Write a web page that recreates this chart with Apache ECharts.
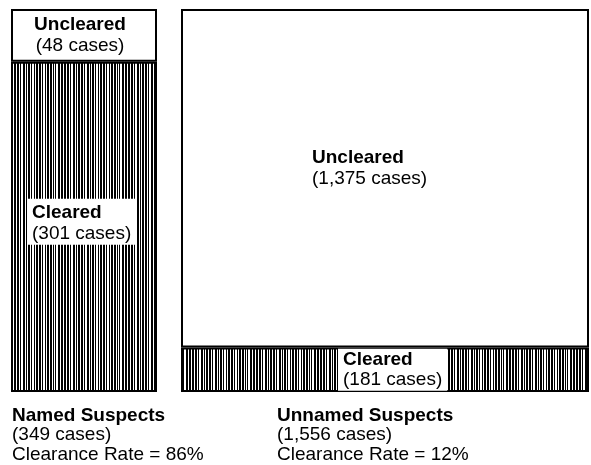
<!DOCTYPE html>
<html><head><meta charset="utf-8">
<script src="https://cdn.jsdelivr.net/npm/echarts@6/dist/echarts.min.js"></script>
<style>html,body{margin:0;padding:0;background:#fff}#c{width:591px;height:465px}</style>
</head><body><div id="c"></div>
<script>
// ---- data ----
const groups = ['Named Suspects', 'Unnamed Suspects'];
const totals = [349, 1556];
const cleared = [301, 181];
const uncleared = [48, 1375];
const clearedName = 'Cleared';
const unclearedName = 'Uncleared';

// ---- style helpers ----
function makeStripes() {
  const seq = '1101101001101011011010011010110100101101101001011011010100110110';
  const c = document.createElement('canvas');
  c.width = seq.length; c.height = 4;
  const g = c.getContext('2d');
  g.fillStyle = '#fff'; g.fillRect(0, 0, c.width, c.height);
  g.fillStyle = '#000';
  for (let i = 0; i < seq.length; i++) if (seq[i] === '1') g.fillRect(i, 0, 1, c.height);
  return c;
}
const hatch = { image: makeStripes(), repeat: 'repeat' };
const fmt = n => n.toLocaleString('en-US');
const FONT = 'Liberation Sans, Arial, sans-serif';
const FS = 19;
const mkRich = lh => ({
  b: { fontFamily: FONT, fontWeight: 'bold', fontSize: FS, lineHeight: lh, color: '#000' },
  n: { fontFamily: FONT, fontSize: FS, lineHeight: lh, color: '#000' }
});
const segLabel = (name, val) => '{b|' + name + '}\n{n|(' + fmt(val) + ' cases)}';

const grids = [
  { left: 11, top: 9, width: 146, height: 383 },
  { left: 181, top: 9, width: 408, height: 383 }
];
const clearedLabelCfg = [
  { position: 'inside', offset: [-57, -5], backgroundColor: '#fff', padding: [3, 5, 1, 5], align: 'left', rich: mkRich(21) },
  { position: 'inside', offset: [-47, 0], backgroundColor: '#fff', padding: [1, 5, 1, 5], align: 'left', rich: mkRich(20) }
];
const unclearedLabelCfg = [
  { position: 'inside', offset: [-4, 0], align: 'center', rich: mkRich(21) },
  { position: 'inside', offset: [-73, -10], align: 'left', rich: mkRich(21) }
];

const xAxis = [], yAxis = [], series = [];
groups.forEach((g, i) => {
  xAxis.push({ type: 'category', gridIndex: i, data: [g], show: false });
  yAxis.push({ type: 'value', gridIndex: i, min: 0, max: totals[i], show: false });
  series.push({
    type: 'bar', name: clearedName, xAxisIndex: i, yAxisIndex: i, stack: 's' + i,
    barWidth: '100%', data: [cleared[i]], silent: true,
    itemStyle: { color: hatch, borderColor: '#000', borderWidth: 2 },
    label: Object.assign({ show: true, formatter: segLabel(clearedName, cleared[i]) }, clearedLabelCfg[i])
  });
  series.push({
    type: 'bar', name: unclearedName, xAxisIndex: i, yAxisIndex: i, stack: 's' + i,
    barWidth: '100%', data: [uncleared[i]], silent: true,
    itemStyle: { color: '#fff', borderColor: '#000', borderWidth: 2 },
    label: Object.assign({ show: true, formatter: segLabel(unclearedName, uncleared[i]) }, unclearedLabelCfg[i])
  });
});

const captionX = [12, 277];
const graphic = groups.map((g, i) => ({
  type: 'text', left: captionX[i], top: 406,
  style: {
    text: '{b|' + g + '}\n{n|(' + fmt(totals[i]) + ' cases)}\n{n|Clearance Rate = ' + Math.round(100 * cleared[i] / totals[i]) + '%}',
    rich: { b: { fontFamily: FONT, fontWeight: 'bold', fontSize: FS, lineHeight: 19.5, fill: '#000' },
            n: { fontFamily: FONT, fontSize: FS, lineHeight: 19.5, fill: '#000' } }
  }
}));

const chart = echarts.init(document.getElementById('c'), null, { renderer: 'canvas' });
chart.setOption({
  animation: false, backgroundColor: '#fff',
  grid: grids, xAxis, yAxis, series, graphic
});
</script></body></html>
